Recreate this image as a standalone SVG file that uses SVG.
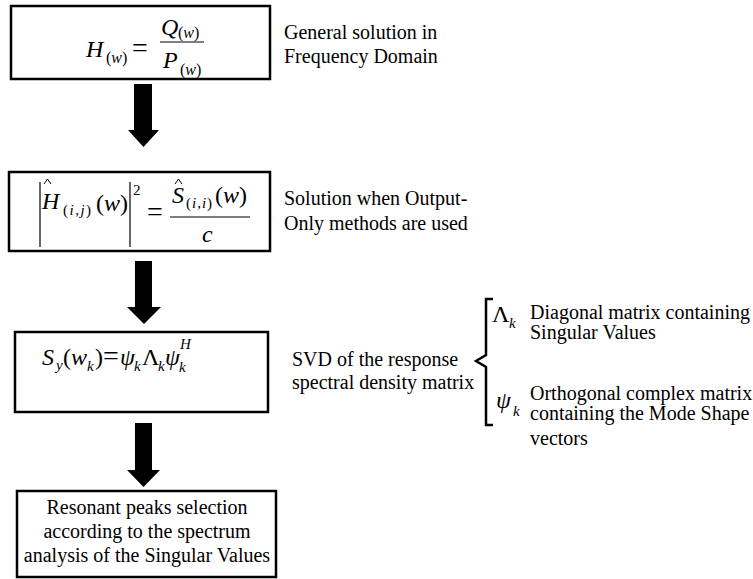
<svg xmlns="http://www.w3.org/2000/svg" width="753" height="579" viewBox="0 0 753 579">
<style>
.box{fill:#fff;stroke:#000;stroke-width:2.5}
.t{font-family:"Liberation Serif","Times New Roman",serif;font-size:20px;fill:#000}
.m{font-family:"Liberation Serif","Times New Roman",serif;font-size:24px;fill:#000}
.s{font-family:"Liberation Serif","Times New Roman",serif;font-size:15px;fill:#000}
.i{font-style:italic}
.ln{stroke:#000;stroke-width:1.2;fill:none}
.hat{stroke:#000;stroke-width:1;fill:none}
</style>
<rect width="753" height="579" fill="#fff"/>
<g id="connectors">
<polygon points="134,84 152,84 152,130 159,130 143.5,147 128,130 134,130" fill="#000"/>
<polygon points="135,261 152,261 152,307 161,307 144,324 127,307 135,307" fill="#000"/>
<polygon points="135,423 152,423 152,470 160,470 143.5,487 127,470 135,470" fill="#000"/>
<path d="M493,299 L486,299 L486,355 L476,361 L486,367 L486,425 L493,425" fill="none" stroke="#000" stroke-width="2.5"/>
</g>
<g id="node1">
<rect class="box" x="11" y="6" width="259" height="73"/>
<text class="m i" x="86" y="57">H</text>
<text class="s" x="106" y="63" style="font-size:16px">(<tspan class="i">w</tspan>)</text>
<text class="m" x="132" y="57" style="font-size:28px">=</text>
<line class="ln" x1="160" y1="42" x2="204" y2="42"/>
<text class="m i" x="161" y="35">Q</text>
<text class="s" x="178" y="38" style="font-size:16px">(<tspan class="i">w</tspan>)</text>
<text class="m i" x="163" y="68">P</text>
<text class="s" x="180" y="75" style="font-size:16px">(<tspan class="i">w</tspan>)</text>
</g>
<g id="label1">
<text class="t" x="284" y="39">General solution in</text>
<text class="t" x="284" y="63">Frequency Domain</text>
</g>
<g id="node2">
<rect class="box" x="9" y="172" width="261" height="79"/>
<line class="ln" x1="40" y1="182" x2="40" y2="247"/>
<polyline class="hat" points="44,184 47.5,179 51,184"/>
<text class="m i" x="42" y="209">H</text>
<text class="s" x="63" y="215" style="letter-spacing:1.5px">(<tspan class="i">i</tspan>,<tspan class="i">j</tspan>)</text>
<text class="m" x="96" y="211">(<tspan class="i">w</tspan>)</text>
<line class="ln" x1="130" y1="182" x2="130" y2="247"/>
<text class="s" x="133" y="195">2</text>
<text class="m" x="147" y="221" style="font-size:28px">=</text>
<line class="ln" x1="170" y1="217" x2="250" y2="217"/>
<polyline class="hat" points="175,184 178.5,179 182,184"/>
<text class="m i" x="172" y="203">S</text>
<text class="s" x="186" y="208" style="letter-spacing:1px">(<tspan class="i">i</tspan>,<tspan class="i">i</tspan>)</text>
<text class="m" x="215" y="203">(<tspan class="i">w</tspan>)</text>
<text class="m i" x="202" y="242">c</text>
</g>
<g id="label2">
<text class="t" x="284" y="205">Solution when Output-</text>
<text class="t" x="284" y="230">Only methods are used</text>
</g>
<g id="node3">
<rect class="box" x="15" y="332" width="253" height="80"/>
<text class="m i" x="42" y="365">S</text>
<text class="s i" x="56" y="370">y</text>
<text class="m" x="63" y="365">(</text>
<text class="m i" x="71" y="365">w</text>
<text class="s i" x="87" y="371">k</text>
<text class="m" x="95" y="365">)</text>
<text class="m" x="103" y="365" style="font-size:28px">=</text>
<text class="m i" x="120" y="365">ψ</text>
<text class="s i" x="134" y="371">k</text>
<text class="m" x="142" y="365">Λ</text>
<text class="s i" x="158" y="371">k</text>
<text class="m i" x="165" y="365">ψ</text>
<text class="s i" x="179" y="372">k</text>
<text class="s i" x="180" y="349">H</text>
</g>
<g id="label3">
<text class="t" x="292" y="366">SVD of the response</text>
<text class="t" x="292" y="389">spectral density matrix</text>
</g>
<g id="lambda">
<text class="m" x="492" y="322">Λ</text>
<text class="s i" x="509" y="328">k</text>
<text class="t" x="530" y="319">Diagonal matrix containing</text>
<text class="t" x="530" y="339">Singular Values</text>
</g>
<g id="psi">
<text class="m i" x="496" y="408">ψ</text>
<text class="s i" x="513" y="416">k</text>
<text class="t" x="530" y="400">Orthogonal complex matrix</text>
<text class="t" x="530" y="420">containing the Mode Shape</text>
<text class="t" x="530" y="445">vectors</text>
</g>
<g id="node4">
<rect class="box" x="17" y="491" width="259" height="86"/>
<text class="t" x="147" y="514" text-anchor="middle">Resonant peaks selection</text>
<text class="t" x="147" y="538" text-anchor="middle">according to the spectrum</text>
<text class="t" x="147" y="562" text-anchor="middle">analysis of the Singular Values</text>
</g>
</svg>
